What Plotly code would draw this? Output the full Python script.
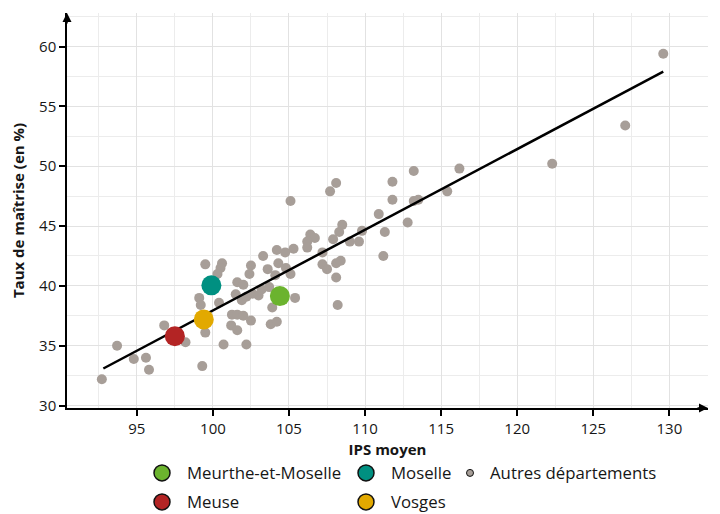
import plotly.graph_objects as go

# Autres départements : IPS moyen et taux de maîtrise (en %)
autres_ips = [
    92.7, 93.7, 94.8, 95.6, 95.8, 96.8, 98.2, 99.3, 99.5, 99.1,
    99.2, 100.4, 100.7, 99.5, 100.6, 100.5, 100.3, 101.6, 102.0, 101.5,
    101.9, 102.2, 102.6, 103.0, 103.2, 103.7, 104.1, 101.25, 101.6, 102.0,
    102.5, 101.2, 101.6, 102.2, 103.9, 103.8, 104.2, 105.4, 102.5, 102.4,
    103.3, 103.6, 104.3, 104.2, 104.75, 105.3, 104.8, 105.1, 105.1, 106.4,
    106.7, 106.2, 106.2, 107.2, 107.2, 107.5, 108.1, 108.4, 108.1, 108.2,
    107.9, 108.3, 108.5, 109.0, 109.6, 109.8, 107.7, 108.1, 110.9, 111.3,
    111.2, 111.8, 111.8, 112.8, 113.2, 113.2, 113.5, 115.4, 116.2, 122.3,
    127.1, 129.6,
]
autres_taux = [
    32.2, 35.0, 33.9, 34.0, 33.0, 36.7, 35.3, 33.3, 36.1, 39.0,
    38.4, 38.6, 35.1, 41.8, 41.9, 41.5, 41.0, 40.3, 40.1, 39.3,
    38.8, 39.1, 39.35, 39.2, 39.7, 39.9, 40.9, 37.6, 37.6, 37.5,
    37.1, 36.7, 36.3, 35.1, 38.2, 36.8, 37.0, 39.0, 41.7, 41.0,
    42.5, 41.4, 41.9, 43.0, 42.8, 43.1, 41.5, 41.0, 47.1, 44.3,
    44.0, 43.7, 43.2, 42.8, 41.8, 41.4, 41.9, 42.1, 40.7, 38.4,
    43.9, 44.5, 45.1, 43.7, 43.7, 44.6, 47.9, 48.6, 46.0, 44.5,
    42.5, 48.7, 47.2, 45.3, 49.6, 47.1, 47.2, 47.9, 49.8, 50.2,
    53.4, 59.4,
]

# Départements lorrains
dep_noms = ["Meurthe-et-Moselle", "Moselle", "Meuse", "Vosges"]
dep_ips = [104.4, 99.9, 97.5, 99.4]
dep_taux = [39.15, 40.05, 35.8, 37.2]
dep_couleurs = ["#6bb32e", "#009081", "#b32424", "#e2a900"]

# Droite de tendance (extrémités)
tend_ips = [92.8, 129.6]
tend_taux = [33.1, 57.9]

GRIS = "#a79e98"
FONT = "Open Sans"
TXT = "#161616"

# la page a une marge de 8 px autour de la figure
W, H = 712, 506
ML, MR, MT, MB = 59, 12, 5, 106
PW, PH = W - ML - MR, H - MT - MB

fig = go.Figure()

fig.add_trace(go.Scatter(
    x=autres_ips, y=autres_taux, mode="markers",
    marker=dict(size=10, color=GRIS), showlegend=False,
    hovertemplate="IPS %{x}<br>%{y} %<extra>Autres</extra>",
))
fig.add_trace(go.Scatter(
    x=tend_ips, y=tend_taux, mode="lines",
    line=dict(color="black", width=2.5), showlegend=False, hoverinfo="skip",
))
for nom, xi, yi, c in zip(dep_noms, dep_ips, dep_taux, dep_couleurs):
    fig.add_trace(go.Scatter(
        x=[xi], y=[yi], mode="markers", name=nom,
        marker=dict(size=20, color=c), showlegend=False,
        hovertemplate="IPS %{x}<br>%{y} %<extra>" + nom + "</extra>",
    ))

# legende facon ggplot (2 lignes, colonnes de largeurs differentes)
# (nom, couleur, taille, contour, legende, x px, y px, itemwidth)
leg_items = [
    ("Meurthe-et-Moselle", dep_couleurs[0], 16, 1.5, "legend", 129, 465, 40),
    ("Moselle", dep_couleurs[1], 16, 1.5, "legend2", 333, 465, 40),
    ("Autres départements", GRIS, 7, 1, "legend3", 442, 465, 30),
    ("Meuse", dep_couleurs[2], 16, 1.5, "legend4", 129, 494, 40),
    ("Vosges", dep_couleurs[3], 16, 1.5, "legend5", 333, 494, 40),
]
legends = {}
for nom, c, s, lw, leg, px, py, iw in leg_items:
    fig.add_trace(go.Scatter(
        x=[None], y=[None], mode="markers", name=nom, legend=leg,
        marker=dict(size=s, color=c, line=dict(color="#111111", width=lw)),
    ))
    legends[leg] = dict(
        x=(px - ML) / PW, y=(MT + PH - py) / PH,
        xanchor="left", yanchor="middle", itemwidth=iw,
        itemsizing="trace", bgcolor="rgba(0,0,0,0)", borderwidth=0,
        font=dict(family=FONT, size=16.8, color=TXT),
    )

# fleches au bout des axes
fig.add_annotation(x=0, y=1, xref="paper", yref="paper", ax=0, ay=12,
                   showarrow=True, arrowhead=2, arrowsize=1.2, arrowwidth=1.5,
                   arrowcolor="black", text="")
fig.add_annotation(x=1, y=0, xref="paper", yref="paper", ax=-12, ay=0,
                   showarrow=True, arrowhead=2, arrowsize=1.2, arrowwidth=1.5,
                   arrowcolor="black", text="")

axis_common = dict(
    showline=True, linecolor="black", linewidth=1.5,
    ticks="outside", ticklen=6, tickwidth=1.5, tickcolor="black",
    showgrid=True, gridcolor="#e2e2e2", gridwidth=1.2, zeroline=False,
    tickfont=dict(family=FONT, size=15, color=TXT),
    minor=dict(dtick=2.5, showgrid=True, gridcolor="#ececec", gridwidth=1, ticks=""),
)
fig.update_xaxes(
    range=[90.41, 132.54], dtick=5, tick0=95,
    title=dict(text="<b>IPS moyen</b>", standoff=8,
               font=dict(family=FONT, size=15, color=TXT)),
    **axis_common,
)
fig.update_yaxes(
    range=[29.8, 62.8], dtick=5, tick0=30,
    title=dict(text="<b>Taux de maîtrise (en %)</b>",
               font=dict(family=FONT, size=15, color=TXT)),
    **axis_common,
)

fig.update_layout(
    width=W, height=H,
    margin=dict(l=ML, r=MR, t=MT, b=MB, autoexpand=False),
    plot_bgcolor="white", paper_bgcolor="white",
    font=dict(family=FONT, size=15, color=TXT),
    **legends,
)

fig.write_html("out.html")
